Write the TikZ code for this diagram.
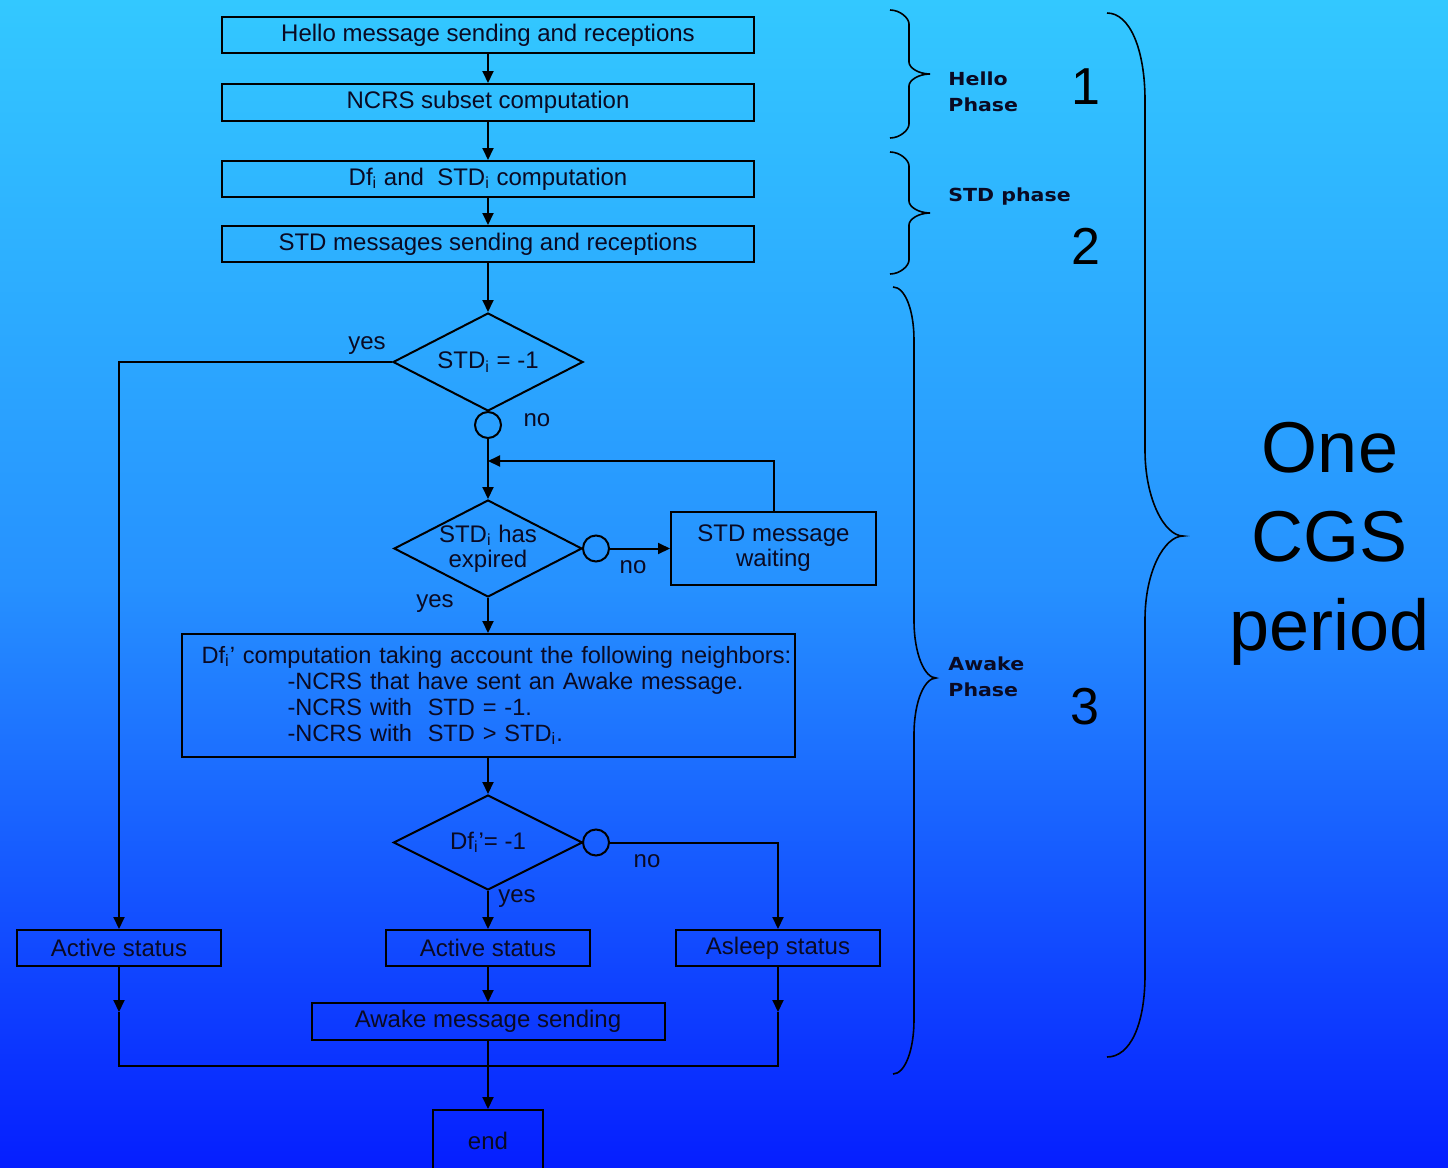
\documentclass[tikz,border=0pt]{standalone}
\usepackage{fontspec}
\setmainfont{Liberation Sans}
\newfontfamily\phasefont{DejaVu Sans}
\usetikzlibrary{shapes.geometric,arrows.meta}
\definecolor{bgtop}{RGB}{51,200,255}
\definecolor{bgmid}{RGB}{38,145,255}
\definecolor{bgbot}{RGB}{5,30,255}
\definecolor{txt}{RGB}{10,10,35}
\begin{document}
\begin{tikzpicture}[x=0.5pt,y=-0.5pt,
  box/.style={draw=black, line width=1pt, inner sep=0pt, text=txt, font=\fontsize{12}{14}\selectfont},
  dia/.style={diamond, draw=black, line width=1pt, inner sep=0pt},
  con/.style={circle, draw=black, line width=1pt, inner sep=0pt, minimum size=13pt},
  arr/.style={line width=1pt, -{Triangle[length=6pt,width=5.5pt]}},
  ln/.style={line width=1pt},
  lbl/.style={inner sep=0pt, text=txt, font=\fontsize{12}{12.5}\selectfont},
  phase/.style={inner sep=0pt, text=txt, anchor=west, align=left, xscale=1.14, font=\phasefont\fontsize{9}{13}\selectfont\bfseries},
  num/.style={inner sep=0pt, text=black, font=\fontsize{26}{30}\selectfont},
  brc/.style={line width=0.8pt, draw=black}
]
\useasboundingbox (0,0) rectangle (1448,1168);
\shade[top color=bgtop, bottom color=bgbot, middle color=bgmid] (0,0) rectangle (1448,1168);

% top boxes
\node[box, minimum width=266pt, minimum height=18pt] (b1) at (488,35) {Hello message sending and receptions};
\node[box, minimum width=266pt, minimum height=18.5pt] (b2) at (488,102.5) {NCRS subset computation};
\node[box, minimum width=266pt, minimum height=18pt] (b3) at (488,179) {Df\textsubscript{i} and~~STD\textsubscript{i} computation};
\node[box, minimum width=266pt, minimum height=18pt] (b4) at (488,244) {STD messages sending and receptions};

% decisions
\node[dia, minimum width=95pt, minimum height=49pt, label={[lbl]center:{STD\textsubscript{i} = -1}}] (d1) at (488,362) {};
\node[con] (c1) at (488,425) {};
\node[dia, minimum width=94pt, minimum height=48.5pt, label={[lbl,align=center]center:{STD\textsubscript{i} has\\expired}}] (d2) at (488,548.5) {};
\node[con] (c2) at (596,548.5) {};
\node[box, minimum width=102.5pt, minimum height=36.5pt, align=center, font=\fontsize{12}{12.5}\selectfont] (wait) at (773.5,548.5) {STD message\\waiting};

\node[box, minimum width=306.5pt, minimum height=61.5pt, text width=286.5pt, inner xsep=10pt, align=left, font=\fontsize{11.8}{13}\selectfont] (calc) at (488,695.5)
 {\makebox[\linewidth][l]{Df\textsubscript{i}’ computation taking account the following neighbors:}\\
  \hspace*{43pt}-NCRS that have sent an Awake message.\\
  \hspace*{43pt}-NCRS with~~STD = -1.\\
  \hspace*{43pt}-NCRS with~~STD > STD\textsubscript{i}.};

\node[dia, minimum width=94.5pt, minimum height=47.5pt, label={[lbl]center:{Df\textsubscript{i}’= -1}}] (d3) at (488,842.5) {};
\node[con] (c3) at (596,842.5) {};

% status boxes
\node[box, minimum width=102pt, minimum height=18pt] (a1) at (119,948) {Active status};
\node[box, minimum width=102pt, minimum height=18pt] (a2) at (488,948) {Active status};
\node[box, minimum width=102pt, minimum height=18pt] (sl) at (778,948) {Asleep status};
\node[box, minimum width=176.5pt, minimum height=18.5pt] (aw) at (488,1021.5) {Awake message sending};
\node[box, minimum width=55pt, minimum height=31pt] (end) at (488,1141) {end};

% connectors
\draw[arr] (b1) -- (b2);
\draw[arr] (b2) -- (b3);
\draw[arr] (b3) -- (b4);
\draw[arr] (b4) -- (d1);
\draw[arr] (d1.west) -| (a1.north);
\draw[arr] (c1.south) -- (d2.north);
\coordinate (lj) at (488,461);
\draw[arr] (wait.north) |- (lj);
\draw[arr] (c2.east) -- (wait.west);
\draw[arr] (d2.south) -- (calc.north);
\draw[arr] (calc.south) -- (d3.north);
\draw[arr] (c3.east) -| (sl.north);
\draw[arr] (d3.south) -- (a2.north);
\draw[arr] (a2.south) -- (aw.north);
\coordinate (m1) at (119,1012);
\coordinate (m2) at (778,1012);
\coordinate (j1) at (119,1066);
\coordinate (j2) at (778,1066);
\draw[arr] (a1.south) -- (m1);
\draw[arr] (sl.south) -- (m2);
\draw[ln] (m1) -- (j1) -- (j2) -- (m2);
\draw[arr] (aw.south) -- (end.north);

% yes / no labels
\node[lbl] (y1) at (367,346) {yes};
\node[lbl] (n1) at (537,420) {no};
\node[lbl] (n2) at (633,567) {no};
\node[lbl] (y2) at (435,604) {yes};
\node[lbl] (n3) at (647,861) {no};
\node[lbl] (y3) at (517,899) {yes};

% braces
\draw[brc] (890,10) .. controls (900,10) and (909,18) .. (909,24) -- (909,62) .. controls (909,68) and (919,74) .. (930,74) .. controls (919,74) and (909,80) .. (909,86) -- (909,124) .. controls (909,130) and (900,138) .. (890,138);
\draw[brc] (890,152) .. controls (900,152) and (909,160) .. (909,166) -- (909,201) .. controls (909,207) and (919,213) .. (930,213) .. controls (919,213) and (909,219) .. (909,225) -- (909,260) .. controls (909,266) and (900,274) .. (890,274);
\draw[brc] (893,287) .. controls (905,287) and (914,310) .. (914,340) -- (914,620) .. controls (914,655) and (925,678) .. (936,678) .. controls (925,678) and (914,700) .. (914,735) -- (914,1020) .. controls (914,1050) and (905,1074) .. (893,1074);
\draw[brc] (1107,13) .. controls (1130,13) and (1145,50) .. (1145,100) -- (1145,450) .. controls (1145,500) and (1165,536) .. (1183,536) .. controls (1165,536) and (1145,570) .. (1145,620) -- (1145,975) .. controls (1145,1025) and (1130,1057) .. (1107,1057);

% phase labels
\node[phase] (p1) at (948,92) {Hello\\Phase};
\node[phase] (p2) at (948,197) {STD phase};
\node[phase] (p3) at (948,677) {Awake\\Phase};
\node[num] (k1) at (1086,87) {1};
\node[num] (k2) at (1086,246) {2};
\node[num] (k3) at (1085,707) {3};
\node[inner sep=0pt, text=black, align=center, font=\fontsize{36}{44.5}\selectfont] (cgs) at (1330,544) {One\\CGS\\period};
\end{tikzpicture}
\end{document}
